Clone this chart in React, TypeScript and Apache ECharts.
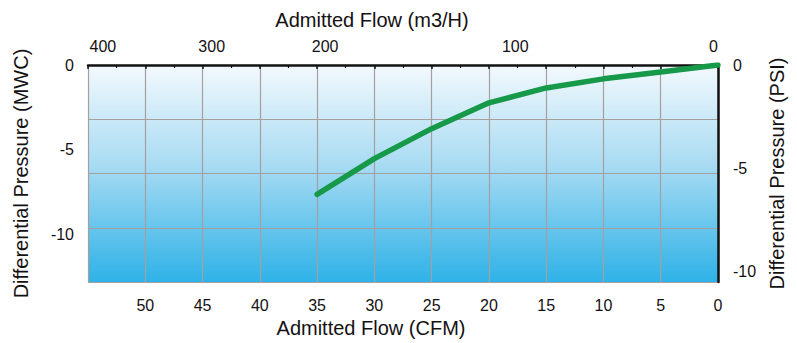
import React, { useEffect, useRef } from "react";
import * as echarts from "echarts";

// Data
const flowCFM = [35, 30, 25, 20, 15, 10, 5, 0];
const pressurePSI = [-6.26, -4.53, -3.08, -1.83, -1.11, -0.67, -0.34, 0];

// Top (m3/H) axis labels and where they sit on the CFM scale
const topLabels = ["0", "100", "200", "300", "400"];
const topLabelAt = [0.4, 17.7, 34.3, 44.2, 53.7];

// Y axis tick labels
const mwcTicks = [0, -5, -10];
const psiTicks = [0, -5, -10];

const FONT = "'Liberation Sans', Arial, Helvetica, sans-serif";
const TEXT = "#141112";
const GRIDLINE = "#a79f9f";

export default function App() {
  const ref = useRef<HTMLDivElement>(null);

  useEffect(() => {
    if (!ref.current) return;
    const chart = echarts.init(ref.current, undefined, { renderer: "svg" });
    const labelStyle = { color: TEXT, fontFamily: FONT, fontSize: 16 };
    const nameStyle = { color: TEXT, fontFamily: FONT, fontSize: 20 };

    chart.setOption({
      animation: false,
      backgroundColor: "#ffffff",
      grid: {
        left: 88,
        right: 79,
        top: 65,
        bottom: 60,
        show: true,
        borderWidth: 0,
        backgroundColor: {
          type: "linear",
          x: 0,
          y: 0,
          x2: 0,
          y2: 1,
          colorStops: [
            { offset: 0, color: "#f3f9fd" },
            { offset: 0.45, color: "#aadcf3" },
            { offset: 1, color: "#2eb2e7" },
          ],
        },
      },
      xAxis: [
        {
          type: "value",
          position: "bottom",
          min: 0,
          max: 55,
          interval: 5,
          inverse: true,
          name: "Admitted Flow (CFM)",
          nameLocation: "middle",
          nameGap: 36,
          nameTextStyle: { ...nameStyle, padding: [0, 64, 0, 0] },
          axisLine: { show: true, lineStyle: { color: "#111", width: 2.5 } },
          axisTick: { show: true, length: 4, lineStyle: { color: "#111", width: 1.5 } },
          minorTick: { show: true, splitNumber: 2, length: 3, lineStyle: { color: "#111", width: 1.2 } },
          splitLine: { show: true, lineStyle: { color: GRIDLINE, width: 1.2 } },
          axisLabel: {
            ...labelStyle,
            margin: 15,
            formatter: (v: number) => (v >= 55 ? "" : String(v)),
          },
        },
        {
          type: "value",
          position: "top",
          min: 0,
          max: 55,
          inverse: true,
          name: "Admitted Flow (m3/H)",
          nameLocation: "middle",
          nameGap: 35,
          nameTextStyle: { ...nameStyle, padding: [0, 62, 0, 0] },
          axisLine: { show: false },
          axisTick: { show: false },
          splitLine: { show: false },
          axisLabel: {
            ...labelStyle,
            margin: 11,
            customValues: topLabelAt,
            formatter: (v: number) => {
              const i = topLabelAt.findIndex((p) => Math.abs(p - v) < 1e-6);
              return i >= 0 ? topLabels[i] : "";
            },
          },
        },
      ],
      yAxis: [
        {
          type: "value",
          position: "left",
          min: -12.8,
          max: 0,
          name: "Differential Pressure (MWC)",
          nameLocation: "middle",
          nameGap: 57,
          nameTextStyle: nameStyle,
          axisLine: { show: true, lineStyle: { color: "#111", width: 2.5 } },
          axisTick: { show: false },
          splitLine: { show: false },
          axisLabel: { ...labelStyle, margin: 14, customValues: mwcTicks },
        },
        {
          type: "value",
          position: "right",
          min: -10.5,
          max: 0,
          name: "Differential Pressure (PSI)",
          nameLocation: "middle",
          nameGap: 48,
          nameTextStyle: nameStyle,
          axisLine: { show: false },
          axisTick: { show: false },
          splitLine: { show: false },
          axisLabel: { ...labelStyle, margin: 15, customValues: psiTicks },
        },
        {
          type: "value",
          position: "left",
          min: -4,
          max: 0,
          interval: 1,
          axisLine: { show: false },
          axisTick: { show: false },
          axisLabel: { show: false },
          splitLine: { show: true, lineStyle: { color: GRIDLINE, width: 1.2 } },
        },
      ],
      series: [
        {
          type: "line",
          xAxisIndex: 0,
          yAxisIndex: 1,
          data: flowCFM.map((c, i) => [c, pressurePSI[i]]),
          symbol: "none",
          lineStyle: { color: "#17994a", width: 5.5, cap: "round", join: "round" },
          z: 5,
        },
      ],
    });
    return () => chart.dispose();
  }, []);

  return (
    <div
      ref={ref}
      style={{ position: "fixed", left: 0, top: 0, width: 797, height: 343 }}
    />
  );
}
